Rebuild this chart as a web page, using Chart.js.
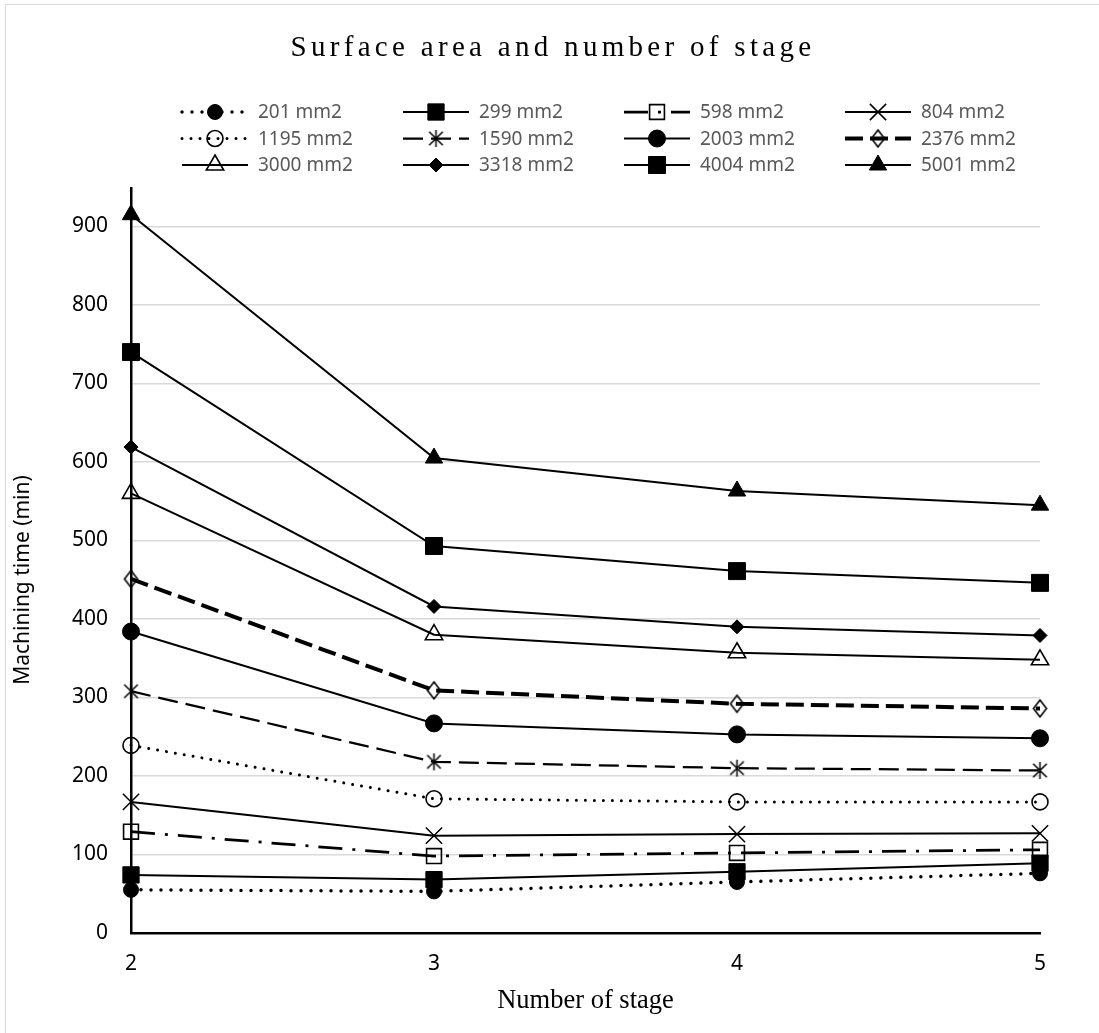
<!DOCTYPE html>
<html>
<head>
<meta charset="utf-8">
<title>Surface area and number of stage</title>
<script src="https://cdn.jsdelivr.net/npm/chart.js@4.4.1/dist/chart.umd.min.js"></script>
<style>
  html, body { margin: 0; padding: 0; background: #fff; overflow: hidden; }
  canvas { display: block; }
</style>
</head>
<body>
<canvas id="chart" width="1099" height="1033"></canvas>
<script>
// Number of stages (x axis)
const stages = ['2', '3', '4', '5'];

// Series names (surface area)
const seriesNames = ['201 mm2', '299 mm2', '598 mm2', '804 mm2', '1195 mm2', '1590 mm2',
                     '2003 mm2', '2376 mm2', '3000 mm2', '3318 mm2', '4004 mm2', '5001 mm2'];

// Machining time (min) per stage for each surface area
const time201  = [55, 53, 65, 76];
const time299  = [74, 68, 78, 89];
const time598  = [129, 98, 102, 106];
const time804  = [167, 124, 126, 127];
const time1195 = [239, 171, 167, 167];
const time1590 = [308, 218, 210, 207];
const time2003 = [384, 267, 253, 248];
const time2376 = [451, 309, 292, 286];
const time3000 = [560, 380, 357, 348];
const time3318 = [619, 416, 390, 379];
const time4004 = [740, 493, 461, 446];
const time5001 = [915, 605, 563, 545];

// Y axis tick values shown
const yTicks = [0, 100, 200, 300, 400, 500, 600, 700, 800, 900];

// ---- custom marker images ----
function asteriskMarker(size, lw) {
  const c = document.createElement('canvas');
  const s = size + 4;
  c.width = s; c.height = s;
  const g = c.getContext('2d');
  const m = s / 2, h = size / 2;
  g.strokeStyle = '#000';
  g.lineWidth = lw;
  g.beginPath();
  g.moveTo(m - h * 0.8, m - h * 0.8); g.lineTo(m + h * 0.8, m + h * 0.8);
  g.moveTo(m + h * 0.8, m - h * 0.8); g.lineTo(m - h * 0.8, m + h * 0.8);
  g.moveTo(m, m - h); g.lineTo(m, m + h);
  g.stroke();
  return c;
}
function tallDiamondMarker(w, h, lw) {
  const c = document.createElement('canvas');
  c.width = w + 4; c.height = h + 4;
  const g = c.getContext('2d');
  const cx = c.width / 2, cy = c.height / 2;
  g.strokeStyle = '#000';
  g.lineWidth = lw;
  g.beginPath();
  g.moveTo(cx, cy - h / 2);
  g.lineTo(cx + w / 2, cy);
  g.lineTo(cx, cy + h / 2);
  g.lineTo(cx - w / 2, cy);
  g.closePath();
  g.stroke();
  return c;
}
const starImg = asteriskMarker(17, 1.5);
const diamondImg = tallDiamondMarker(13, 17, 1.6);

// ---- line / marker styles per series ----
const styles = [
  { width: 3.5, dash: [0.001, 10], cap: 'round', point: 'circle', r: 7.5, fill: '#000', pbw: 1 },
  { width: 2,   dash: [],          cap: 'butt',  point: 'rect', r: 11.5, fill: '#000', pbw: 1 },
  { width: 2.75, dash: [24, 10, 3, 10], cap: 'butt', point: 'rect', r: 10.5, fill: 'rgba(0,0,0,0)', pbw: 1.6 },
  { width: 2,   dash: [],          cap: 'butt',  point: 'crossRot', r: 11.5, fill: 'rgba(0,0,0,0)', pbw: 1.5 },
  { width: 3,   dash: [0.001, 9],  cap: 'round', point: 'circle', r: 8, fill: 'rgba(0,0,0,0)', pbw: 1.6 },
  { width: 2.25, dash: [20, 8],    cap: 'butt',  point: starImg, r: 8, fill: '#000', pbw: 1.5 },
  { width: 2,   dash: [],          cap: 'butt',  point: 'circle', r: 8.5, fill: '#000', pbw: 1 },
  { width: 4,   dash: [18, 7],     cap: 'butt',  point: diamondImg, r: 8, fill: 'rgba(0,0,0,0)', pbw: 1.6 },
  { width: 2,   dash: [],          cap: 'butt',  point: 'triangle', r: 10, fill: 'rgba(255,255,255,0)', pbw: 1.6 },
  { width: 2,   dash: [],          cap: 'butt',  point: 'rectRot', r: 7, fill: '#000', pbw: 1 },
  { width: 2,   dash: [],          cap: 'butt',  point: 'rect', r: 12, fill: '#000', pbw: 1 },
  { width: 2,   dash: [],          cap: 'butt',  point: 'triangle', r: 10, fill: '#000', pbw: 1 }
];
const seriesValues = [time201, time299, time598, time804, time1195, time1590,
                      time2003, time2376, time3000, time3318, time4004, time5001];

const datasets = seriesNames.map((name, i) => {
  const s = styles[i];
  return {
    label: name,
    data: seriesValues[i],
    borderColor: '#000',
    backgroundColor: '#000',
    borderWidth: s.width,
    borderDash: s.dash,
    borderCapStyle: s.cap,
    tension: 0,
    fill: false,
    clip: false,
    pointStyle: s.point,
    pointRadius: s.r,
    pointHoverRadius: s.r,
    pointBackgroundColor: s.fill,
    pointBorderColor: '#000',
    pointBorderWidth: s.pbw
  };
});

const SANS = '"Noto Sans", "Open Sans", sans-serif';
const SERIF = '"Liberation Serif", "Times New Roman", serif';

// Draws the background, frame, titles and the column legend.
const decorations = {
  id: 'decorations',
  beforeDraw(chart) {
    const ctx = chart.ctx;
    ctx.save();
    ctx.fillStyle = '#fff';
    ctx.fillRect(0, 0, chart.width, chart.height);
    ctx.strokeStyle = '#d9d9d9';
    ctx.lineWidth = 1;
    ctx.beginPath();
    ctx.moveTo(5.5, chart.height);
    ctx.lineTo(5.5, 4.5);
    ctx.lineTo(chart.width, 4.5);
    ctx.stroke();
    ctx.restore();
  },
  afterDraw(chart) {
    const ctx = chart.ctx;
    const area = chart.chartArea;
    ctx.save();

    // chart title
    ctx.fillStyle = '#000';
    ctx.font = '29px ' + SERIF;
    ctx.textAlign = 'center';
    ctx.textBaseline = 'alphabetic';
    if ('letterSpacing' in ctx) ctx.letterSpacing = '4.3px';
    ctx.fillText('Surface area and number of stage', 553, 56);
    if ('letterSpacing' in ctx) ctx.letterSpacing = '0px';

    // x axis title
    ctx.font = '26.5px ' + SERIF;
    ctx.textBaseline = 'middle';
    ctx.fillText('Number of stage', (area.left + area.right) / 2, 1001);

    // y axis title
    ctx.save();
    ctx.translate(23, 580);
    ctx.rotate(-Math.PI / 2);
    ctx.font = '21px ' + SANS;
    ctx.fillText('Machining time (min)', 0, 0);
    ctx.restore();

    // legend: 4 columns x 3 rows
    chart.data.datasets.forEach((ds, i) => {
      const col = i % 4, row = Math.floor(i / 4);
      const x0 = 182 + 221 * col;
      const y = 112 + 26.5 * row;
      const len = 66;
      ctx.save();
      ctx.strokeStyle = ds.borderColor;
      ctx.lineWidth = ds.borderWidth;
      ctx.lineCap = ds.borderCapStyle;
      ctx.setLineDash(ds.borderDash);
      ctx.beginPath();
      ctx.moveTo(x0, y);
      ctx.lineTo(x0 + len, y);
      ctx.stroke();
      ctx.setLineDash([]);
      ctx.lineCap = 'butt';
      ctx.fillStyle = ds.pointBackgroundColor;
      ctx.strokeStyle = ds.pointBorderColor;
      ctx.lineWidth = ds.pointBorderWidth;
      Chart.helpers.drawPoint(ctx, {
        pointStyle: ds.pointStyle,
        radius: ds.pointRadius,
        borderWidth: ds.pointBorderWidth,
        rotation: 0
      }, x0 + len / 2, y);
      ctx.restore();

      ctx.fillStyle = '#595959';
      ctx.font = '19px ' + SANS;
      ctx.textAlign = 'left';
      ctx.textBaseline = 'middle';
      ctx.fillText(ds.label, x0 + 76, y + 1);
    });
    ctx.restore();
  }
};

new Chart(document.getElementById('chart'), {
  type: 'line',
  data: { labels: stages, datasets },
  plugins: [decorations],
  options: {
    responsive: false,
    animation: false,
    devicePixelRatio: 1,
    layout: { padding: { top: 188, right: 59, left: 0, bottom: 0 } },
    plugins: {
      legend: { display: false },
      title: { display: false },
      tooltip: { enabled: false }
    },
    scales: {
      x: {
        type: 'category',
        offset: false,
        grid: { display: false, drawTicks: false },
        border: { display: true, color: '#000', width: 2.5 },
        ticks: { color: '#000', font: { family: SANS, size: 21 }, padding: 18, maxRotation: 0 },
        afterFit(scale) { scale.height = 100; }
      },
      y: {
        type: 'linear',
        min: 0,
        max: 949,
        grid: { color: '#d9d9d9', lineWidth: 1.5, drawTicks: false },
        border: { display: true, color: '#000', width: 2.5 },
        ticks: { color: '#000', font: { family: SANS, size: 21 }, padding: 23, stepSize: 100 },
        afterBuildTicks(scale) { scale.ticks = yTicks.map(v => ({ value: v })); },
        afterFit(scale) { scale.width = 131; }
      }
    }
  }
});
</script>
</body>
</html>
